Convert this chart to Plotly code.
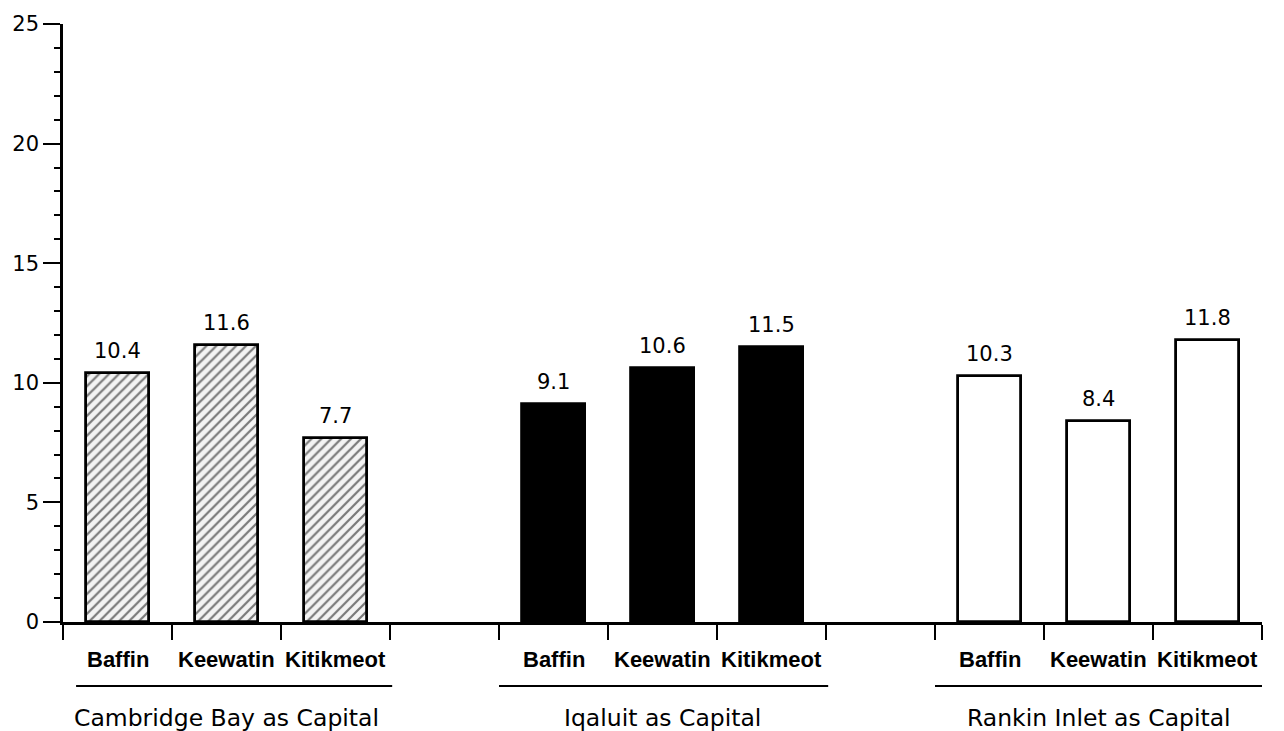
import plotly.graph_objects as go

# Survey shares by region under each capital option
regions = ["Baffin", "Keewatin", "Kitikmeot"]
groups = ["Cambridge Bay as Capital", "Iqaluit as Capital", "Rankin Inlet as Capital"]
cambridge_bay = [10.4, 11.6, 7.7]
iqaluit = [9.1, 10.6, 11.5]
rankin_inlet = [10.3, 8.4, 11.8]
y_ticks = [0, 5, 10, 15, 20, 25]

FONT = "DejaVu Sans, Arial, sans-serif"
LABEL_FONT = "Liberation Sans, Arial, Helvetica, sans-serif"

fig = go.Figure()

# each group occupies 3 unit slots, with one empty slot between groups
group_starts = [0, 4, 8]
series = [cambridge_bay, iqaluit, rankin_inlet]
styles = [
    dict(color="white", pattern=dict(shape="/", fgcolor="#000", bgcolor="#f4f4f4",
                                     size=7, solidity=0.32)),
    dict(color="black"),
    dict(color="white"),
]

for start, vals, style in zip(group_starts, series, styles):
    xs = [start + i + 0.5 for i in range(len(vals))]
    fig.add_trace(go.Bar(
        x=xs, y=vals, width=0.57,
        marker=dict(line=dict(color="black", width=2.8), **style),
        showlegend=False, hoverinfo="x+y",
    ))
    for x, v in zip(xs, vals):
        fig.add_annotation(x=x, y=v, xref="x", yref="y", text=f"{v:.1f}",
                           showarrow=False, yanchor="bottom", yshift=8,
                           font=dict(family=FONT, size=21, color="black"))
    for x, r in zip(xs, regions):
        fig.add_annotation(x=x, y=-0.063, xref="x", yref="paper",
                           text=r, showarrow=False, yanchor="middle",
                           font=dict(family=LABEL_FONT, size=22, color="black",
                                     weight="bold"))

underline_starts = [0.12, 4.0, 8.0]
for start, u0, g in zip(group_starts, underline_starts, groups):
    fig.add_shape(type="line", xref="x", yref="paper",
                  x0=u0, x1=start + 3.02, y0=-0.107, y1=-0.107,
                  line=dict(color="black", width=2.2))
    fig.add_annotation(x=start + 1.5, y=-0.16, xref="x", yref="paper",
                       text=g, showarrow=False, yanchor="middle",
                       font=dict(family=FONT, size=23.5, color="black"))

fig.update_layout(
    width=1284, height=731,
    margin=dict(l=62, r=22, t=22, b=109),
    paper_bgcolor="white", plot_bgcolor="white",
    bargap=0,
    xaxis=dict(range=[0, 11], tickmode="linear", tick0=0, dtick=1,
               showticklabels=False, ticks="outside", ticklen=15, tickwidth=2,
               tickcolor="black", showline=True, linecolor="black", linewidth=2.5,
               showgrid=False, zeroline=False, fixedrange=True),
    yaxis=dict(range=[0, 25], tickvals=y_ticks, ticks="outside", ticklen=17,
               tickwidth=2, tickcolor="black", showline=True, linecolor="black",
               linewidth=2.5, showgrid=False, zeroline=False,
               tickfont=dict(family=FONT, size=21, color="black"),
               minor=dict(dtick=1, ticks="outside", ticklen=6, tickwidth=1.5,
                          tickcolor="black", showgrid=False)),
)

fig.write_html("out.html")
